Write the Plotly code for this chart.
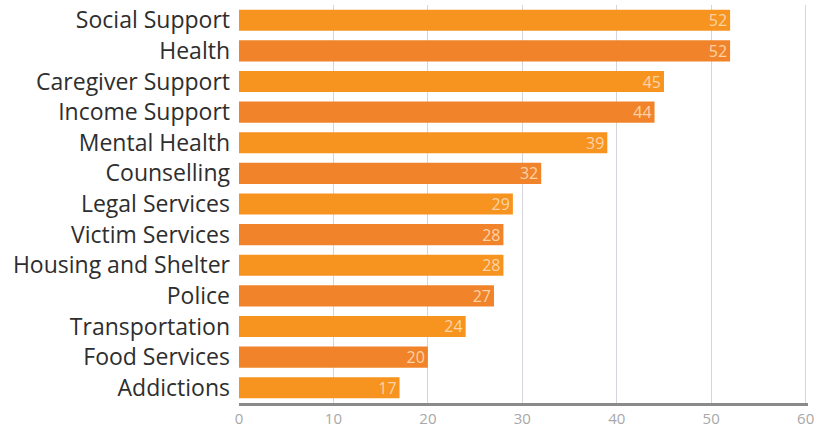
import plotly.graph_objects as go

categories = ["Social Support", "Health", "Caregiver Support", "Income Support", "Mental Health",
              "Counselling", "Legal Services", "Victim Services", "Housing and Shelter", "Police",
              "Transportation", "Food Services", "Addictions"]
values = [52, 52, 45, 44, 39, 32, 29, 28, 28, 27, 24, 20, 17]
x_ticks = [0, 10, 20, 30, 40, 50, 60]

colors = ["#F7941F" if i % 2 == 0 else "#F1842A" for i in range(len(values))]

fig = go.Figure(go.Bar(
    y=categories, x=values, orientation="h",
    marker=dict(color=colors, line=dict(width=0)),
    width=0.69,
    text=[str(v) for v in values], textposition="inside", insidetextanchor="end",
    textangle=0, constraintext="none",
    textfont=dict(color="#FBD3A6", size=16, family="Open Sans"),
    cliponaxis=False,
))

fig.update_layout(
    width=814, height=429,
    margin=dict(l=239, r=6, t=5, b=26),
    plot_bgcolor="white", paper_bgcolor="white",
    showlegend=False,
    xaxis=dict(range=[0, 60.25], tickvals=x_ticks, showgrid=True, gridcolor="#D4D4DC", gridwidth=1,
               zeroline=False, showline=True, linecolor="#8A8A8A", linewidth=3,
               tickfont=dict(color="#A8A8A8", size=15, family="Open Sans"), ticks="",
               ticklabeloverflow="allow", ticklabelstandoff=0, automargin=False),
    yaxis=dict(autorange="reversed", showgrid=False, zeroline=False, showline=False,
               tickfont=dict(color="#2E2E2E", size=23, family="Open Sans"), ticks="",
               ticklabelstandoff=8, automargin=False),
)

fig.write_html("out.html")
